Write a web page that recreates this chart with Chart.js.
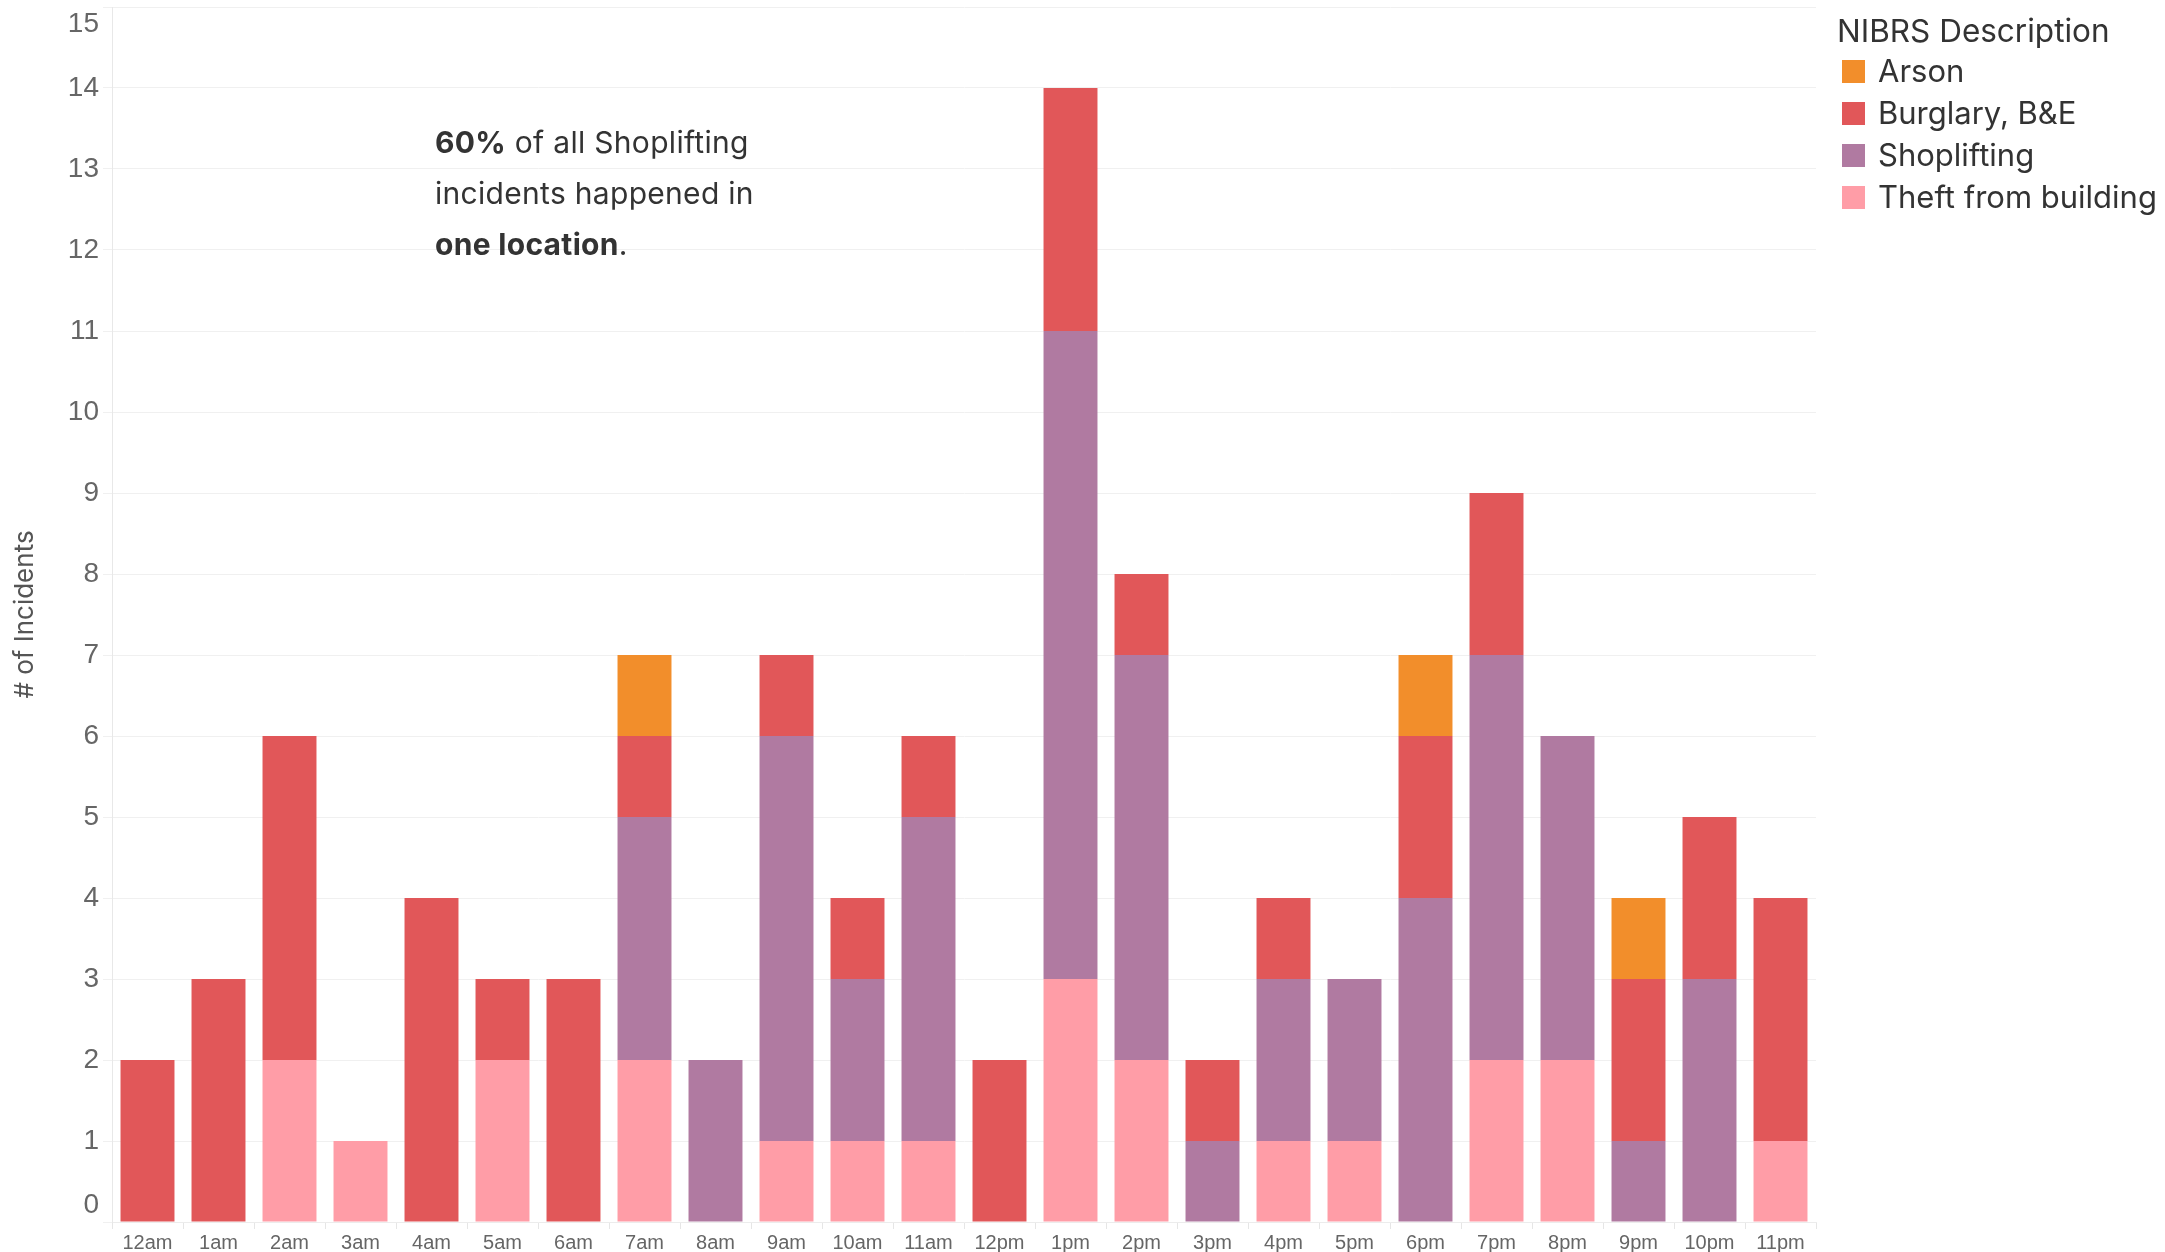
<!DOCTYPE html>
<html>
<head>
<meta charset="utf-8">
<script src="https://cdn.jsdelivr.net/npm/chart.js@4.4.1/dist/chart.umd.min.js"></script>
<style>
  body { margin: 0; background: #fff; }
  #wrap { position: relative; width: 2165px; height: 1252px; }
  #note { position: absolute; left: 435px; top: 117px; font-family: Inter, sans-serif; font-size: 30px; letter-spacing: 0.3px; line-height: 51px; color: #333; }
  #legend { position: absolute; left: 1837px; top: 0; font-family: Inter, sans-serif; color: #333; }
  #legend .title { position: absolute; left: 0; top: 11px; font-size: 31.5px; white-space: nowrap; line-height: 40px; }
  #legend .item { position: absolute; left: 5px; font-size: 31px; white-space: nowrap; line-height: 36px; height: 36px; }
  #legend .box { display: inline-block; width: 23px; height: 23px; vertical-align: middle; margin-right: 13px; position: relative; top: -2px; }
</style>
</head>
<body>
<div id="wrap">
  <canvas id="chart" width="2165" height="1252"></canvas>
  <div id="note"><b>60%</b> of all Shoplifting<br>incidents happened in<br><b>one location</b>.</div>
  <div id="legend"></div>
</div>
<script>
// hours of the day
const hours = ['12am','1am','2am','3am','4am','5am','6am','7am','8am','9am','10am','11am',
               '12pm','1pm','2pm','3pm','4pm','5pm','6pm','7pm','8pm','9pm','10pm','11pm'];

// incidents per hour, by NIBRS description
const theft       = [0,0,2,1,0,2,0,2,0,1,1,1,0,3,2,0,1,1,0,2,2,0,0,1];
const shoplifting = [0,0,0,0,0,0,0,3,2,5,2,4,0,8,5,1,2,2,4,5,4,1,3,0];
const burglary    = [2,3,4,0,4,1,3,1,0,1,1,1,2,3,1,1,1,0,2,2,0,2,2,3];
const arson       = [0,0,0,0,0,0,0,1,0,0,0,0,0,0,0,0,0,0,1,0,0,1,0,0];

const yTicks = [0,1,2,3,4,5,6,7,8,9,10,11,12,13,14,15];

const colors = {
  'Arson': '#F28E2B',
  'Burglary, B&E': '#E15759',
  'Shoplifting': '#B07AA1',
  'Theft from building': '#FF9DA7'
};
const legendOrder = ['Arson', 'Burglary, B&E', 'Shoplifting', 'Theft from building'];

function ds(label, data) {
  return {
    label: label,
    data: data,
    backgroundColor: colors[label],
    borderWidth: 0,
    barPercentage: 0.76,
    categoryPercentage: 1.0
  };
}

const tickFont = "'Liberation Sans', Arial, sans-serif";

const chart = new Chart(document.getElementById('chart'), {
  type: 'bar',
  data: {
    labels: hours,
    // first dataset sits at the bottom of the stack
    datasets: [
      ds('Theft from building', theft),
      ds('Shoplifting', shoplifting),
      ds('Burglary, B&E', burglary),
      ds('Arson', arson)
    ]
  },
  options: {
    responsive: false,
    animation: false,
    devicePixelRatio: 1,
    layout: { padding: { top: 7, right: 349, bottom: 0, left: 0 } },
    plugins: {
      legend: { display: false },
      tooltip: { enabled: false }
    },
    scales: {
      x: {
        stacked: true,
        grid: { drawOnChartArea: false, drawTicks: true, tickLength: 7, color: '#e6e6e6', offset: true },
        border: { display: true, color: '#ececec' },
        ticks: { color: '#666', font: { family: tickFont, size: 20 }, padding: 2, maxRotation: 0, autoSkip: false },
        afterFit: function(s) { s.height = 30; s.paddingLeft = 0; s.paddingRight = 0; }
      },
      y: {
        stacked: true,
        min: 0,
        max: 15,
        afterBuildTicks: function(s) { s.ticks = yTicks.map(v => ({ value: v })); },
        grid: { color: '#f0f0f0', tickLength: 9, drawTicks: true },
        border: { display: true, color: '#e8e8e8' },
        ticks: {
          color: '#666',
          padding: 4,
          font: { family: tickFont, size: 28 },
          // end labels are pulled inside the axis range
          callback: function(v) {
            if (v === 0) return ['0', ''];
            if (v === 15) return ['', '15'];
            return String(v);
          }
        },
        title: {
          display: true,
          text: '# of Incidents',
          color: '#555',
          font: { family: 'Inter, sans-serif', size: 26 },
          padding: { top: 10, bottom: 0 }
        },
        afterFit: function(s) { s.width = 112; s.paddingTop = 0; s.paddingBottom = 0; }
      }
    }
  }
});

// legend built from the datasets
const legend = document.getElementById('legend');
const title = document.createElement('div');
title.className = 'title';
title.textContent = 'NIBRS Description';
legend.appendChild(title);
legendOrder.forEach(function(name, i) {
  const d = chart.data.datasets.find(x => x.label === name);
  const item = document.createElement('div');
  item.className = 'item';
  item.style.top = (53 + i * 42) + 'px';
  const box = document.createElement('span');
  box.className = 'box';
  box.style.background = d.backgroundColor;
  item.appendChild(box);
  item.appendChild(document.createTextNode(d.label));
  legend.appendChild(item);
});
</script>
</body>
</html>
